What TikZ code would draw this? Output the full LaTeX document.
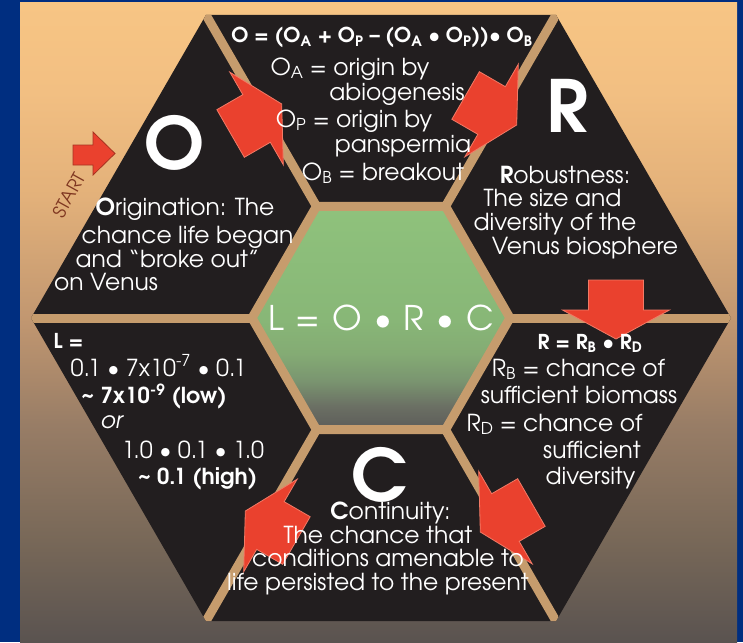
\documentclass[tikz,border=0pt]{standalone}
\usepackage{fontspec}
\setmainfont{TeX Gyre Adventor}

\definecolor{panelblue}{HTML}{002E80}
\definecolor{gaptan}{HTML}{C69C6D}
\definecolor{slab}{HTML}{221E1F}
\definecolor{flowred}{HTML}{EA412E}
\definecolor{flowedge}{HTML}{F27A66}
\definecolor{startedge}{HTML}{A83220}
\definecolor{startbrown}{HTML}{7E3620}
\definecolor{bg0}{HTML}{5A5350}
\definecolor{bg1}{HTML}{786858}
\definecolor{bg2}{HTML}{987D66}
\definecolor{bg3}{HTML}{C09670}
\definecolor{bg4}{HTML}{E3B17A}
\definecolor{bg5}{HTML}{F2BF82}
\definecolor{bg6}{HTML}{F7C584}
\definecolor{hex0}{HTML}{5C5C59}
\definecolor{hex1}{HTML}{6A6E63}
\definecolor{hex2}{HTML}{7A9570}
\definecolor{hex3}{HTML}{84AB74}
\definecolor{hex4}{HTML}{88B777}
\definecolor{hex5}{HTML}{8FC27C}

\pgfdeclareverticalshading{panelfade}{100bp}{color(0bp)=(bg0); color(25bp)=(bg0); color(33bp)=(bg1); color(42bp)=(bg2); color(50bp)=(bg3); color(60bp)=(bg4); color(68bp)=(bg5); color(75bp)=(bg6); color(100bp)=(bg6)}
\pgfdeclareverticalshading{hexfade}{100bp}{color(0bp)=(hex0); color(25bp)=(hex0); color(30bp)=(hex1); color(36bp)=(hex2); color(42bp)=(hex3); color(50bp)=(hex4); color(75bp)=(hex5); color(100bp)=(hex5)}

\tikzset{
    gapline/.style={draw=gaptan, line width=9pt},
    flowarrow/.style={fill=flowred, draw=flowedge, line width=.8pt},
    startarrow/.style={fill=flowred, draw=startedge, line width=.8pt},
    blurb/.style={text=white, inner sep=0pt, anchor=base, font=\fontsize{23.4}{27}\selectfont},
    formula/.style={blurb, font=\fontsize{20.5}{24}\selectfont\bfseries},
    bigletter/.style={blurb, font=\fontsize{72}{72}\selectfont\bfseries},
}

\begin{document}
\begin{tikzpicture}[x=1pt, y=-1pt]
    \useasboundingbox (0,0) rectangle (743,642);
    \fill[panelblue] (0,0) rectangle (743,642);
    \shade[shading=panelfade] (20,3) rectangle (737,642);

    \begin{scope}[shift={(381,318)}]
        \fill[slab] (0:350) -- (60:350) -- (120:350) -- (180:350) -- (240:350) -- (300:350) -- cycle;
        \begin{scope}
            \clip (0:350) -- (60:350) -- (120:350) -- (180:350) -- (240:350) -- (300:350) -- cycle;
            \foreach \a in {0,60,...,300}
                \draw[gapline] (\a:120) -- (\a:360);
        \end{scope}
        \shadedraw[shading=hexfade, gapline] (0:129) -- (60:129) -- (120:129) -- (180:129) -- (240:129) -- (300:129) -- cycle;
        \foreach \a in {240,300,0,60,120}
            \filldraw[flowarrow, shift={(\a:235)}, shift={(\a-90:8)}, rotate=-\a-90]
                (-30,-27.5) -- (0,-27.5) -- (0,-53.5) -- (29,0) -- (0,53.5) -- (0,27.5) -- (-30,27.5) -- cycle;
    \end{scope}

    \filldraw[startarrow] (73,145) -- (93,145) -- (93,132) -- (115,153.5) -- (93,175) -- (93,165) -- (73,165) -- cycle;
    \node[text=startbrown, inner sep=0pt, font=\fontsize{18}{18}\selectfont, rotate=61] (start) at (69,195) {START};

    \node[bigletter] (bigO) at (175,169) {O};
    \node[bigletter] (bigR) at (567,132) {R};
    \node[bigletter] (bigC) at (380,501) {C};

    \node[blurb] (orig1) at (185,215) {\textbf{O}rigination: The};
    \node[blurb] (orig2) at (187.5,243) {chance life began};
    \node[blurb] (orig3) at (167.5,267) {and “broke out”};
    \node[blurb] (orig4) at (106,290) {on Venus};

    \node[formula] (oeq0) at (382,43) {O = (O\textsubscript{A} + O\textsubscript{P} – (O\textsubscript{A} • O\textsubscript{P}))• O\textsubscript{B}};
    \node[blurb] (oeq1) at (350,75) {O\textsubscript{A} = origin by};
    \node[blurb] (oeq2) at (397,100) {abiogenesis};
    \node[blurb] (oeq3) at (354,127) {O\textsubscript{P} = origin by};
    \node[blurb] (oeq4) at (403,152) {panspermia};
    \node[blurb] (oeq5) at (383,180) {O\textsubscript{B} = breakout};

    \node[blurb] (rob1) at (565,183) {\textbf{R}obustness:};
    \node[blurb] (rob2) at (552.5,206) {The size and};
    \node[blurb] (rob3) at (555,230) {diversity of the};
    \node[blurb] (rob4) at (585,254) {Venus biosphere};

    \node[formula] (req0) at (590,349) {R = R\textsubscript{B} • R\textsubscript{D}};
    \node[blurb] (req1) at (578.5,376) {R\textsubscript{B} = chance of};
    \node[blurb] (req2) at (579,403) {sufficient biomass};
    \node[blurb] (req3) at (554.5,431) {R\textsubscript{D} = chance of};
    \node[blurb] (req4) at (592,458) {sufficient};
    \node[blurb] (req5) at (590.5,484) {diversity};

    \node[blurb] (cont1) at (390.5,519) {\textbf{C}ontinuity:};
    \node[blurb] (cont2) at (378,543) {The chance that};
    \node[blurb] (cont3) at (388,566) {conditions amenable to};
    \node[blurb] (cont4) at (378,590) {life persisted to the present};

    \node[formula] (leq0) at (68.5,348) {L =};
    \node[blurb] (leq1) at (158.5,376) {0.1 • 7x10\textsuperscript{-7} • 0.1};
    \node[formula, font=\fontsize{22}{24}\selectfont\bfseries] (leq2) at (154,403) {\textasciitilde{} 7x10\textsuperscript{-9} (low)};
    \node[blurb, font=\fontsize{23}{27}\selectfont\itshape] (leq3) at (111.5,428) {or};
    \node[blurb] (leq4) at (193,458) {1.0 • 0.1 • 1.0};
    \node[formula, font=\fontsize{22}{24}\selectfont\bfseries] (leq5) at (197.5,484) {\textasciitilde{} 0.1 (high)};

    \node[blurb, font=\fontsize{34}{34}\selectfont] (core) at (381,330) {L\hspace{12pt}=\hspace{12pt}O\hspace{12pt}•\hspace{12pt}R\hspace{12pt}•\hspace{12pt}C};
\end{tikzpicture}
\end{document}
